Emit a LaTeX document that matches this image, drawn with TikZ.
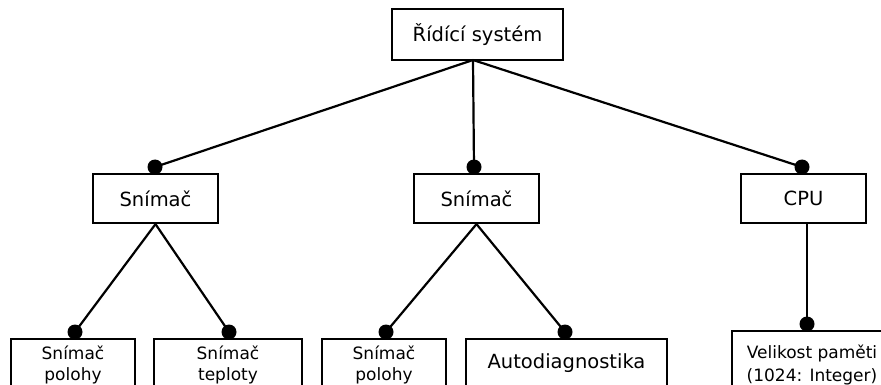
\documentclass[tikz,border=0pt]{standalone}
\usepackage{fontspec}
\setmainfont{DejaVu Sans}
\begin{document}
\begin{tikzpicture}[x=1pt,y=-1pt,
  box/.style={draw, line width=2.2pt, fill=white, inner sep=0pt, align=center},
  big/.style={font=\fontsize{19.5}{23}\selectfont},
  small/.style={font=\fontsize{17}{20.5}\selectfont},
  dotn/.style={circle, fill=black, inner sep=0pt, minimum size=15pt},
  link/.style={line width=2.2pt}]
\useasboundingbox (0,0) rectangle (881,385);

% root
\node[box, big, minimum width=171pt, minimum height=51pt] (top) at (477.5,34.5) {Řídící systém};
\coordinate (hub) at (473,60);

% second level
\node[box, big, minimum width=125pt, minimum height=49pt] (s1) at (155.5,198.5) {Snímač};
\node[box, big, minimum width=125pt, minimum height=49pt] (s2) at (476.5,198.5) {Snímač};
\node[box, big, minimum width=125pt, minimum height=49pt] (cpu) at (803.5,198.5) {CPU};

% leaves
\node[box, small, minimum width=124pt, minimum height=52pt] (b1) at (73,365) {Snímač\\polohy};
\node[box, small, minimum width=148pt, minimum height=52pt] (b2) at (228,365) {Snímač\\teploty};
\node[box, small, minimum width=124pt, minimum height=52pt] (b3) at (384,365) {Snímač\\polohy};
\node[box, big, minimum width=201pt, minimum height=48pt] (b4) at (566.5,363) {Autodiagnostika};
\node[box, font=\fontsize{17}{23}\selectfont, minimum width=160pt, minimum height=67pt] (b5) at (812,364.5) {Velikost paměti\\(1024: Integer)};

% composition dots
\node[dotn] (d1) at (155,167) {};
\node[dotn] (d2) at (474,167) {};
\node[dotn] (d3) at (802,167) {};
\node[dotn] (e1) at (75,332) {};
\node[dotn] (e2) at (229,332) {};
\node[dotn] (e3) at (386,332) {};
\node[dotn] (e4) at (565,332) {};
\node[dotn] (e5) at (807,324) {};

% links
\draw[link] (hub) -- (d1.center);
\draw[link] (hub) -- (d2.center);
\draw[link] (hub) -- (d3.center);
\draw[link] (s1.south) -- (e1.center);
\draw[link] (s1.south) -- (e2.center);
\draw[link] (s2.south) -- (e3.center);
\draw[link] (s2.south) -- (e4.center);
\draw[link] (cpu.south -| e5) -- (e5.center);
\end{tikzpicture}
\end{document}
